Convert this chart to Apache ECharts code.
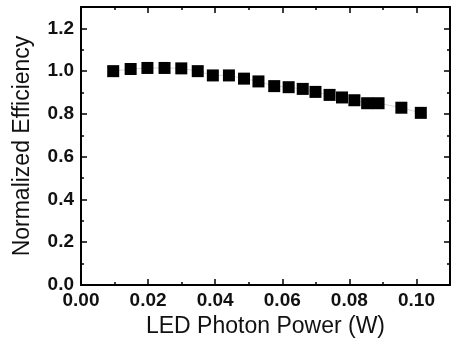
<!DOCTYPE html>
<html>
<head>
<meta charset="utf-8">
<script src="https://cdn.jsdelivr.net/npm/echarts@6/dist/echarts.min.js"></script>
<style>
  html, body { margin: 0; padding: 0; background: #fff; }
  #chart { width: 453px; height: 340px; }
</style>
</head>
<body>
<div id="chart"></div>
<script>
// LED photon power (W)
const power = [0.0096, 0.0148, 0.0198, 0.0249, 0.0299, 0.0348, 0.0393, 0.0441, 0.0486, 0.0529, 0.0576,
  0.0619, 0.0661, 0.0699, 0.0741, 0.0778, 0.0815, 0.0853, 0.0887, 0.0955, 0.1013];
// normalized efficiency
const efficiency = [1.00, 1.01, 1.015, 1.015, 1.013, 1.00, 0.98, 0.98, 0.965, 0.952, 0.93,
  0.925, 0.917, 0.903, 0.889, 0.877, 0.864, 0.85, 0.85, 0.829, 0.805];

const points = power.map((p, i) => [p, efficiency[i]]);

const chart = echarts.init(document.getElementById("chart"), null, { renderer: "canvas" });

const frameAxis = {
  axisLine: { show: true, onZero: false, lineStyle: { color: "#000", width: 2 } },
  axisTick: { show: true, inside: true, length: 6, lineStyle: { color: "#000", width: 1.5 } },
  minorTick: { show: true, splitNumber: 2, length: 3, lineStyle: { color: "#000", width: 1.5 } },
  splitLine: { show: false },
};

chart.setOption({
  animation: false,
  backgroundColor: "#fff",
  grid: { left: 81, right: 3, top: 7, bottom: 55, containLabel: false, outerBoundsMode: "none" },
  xAxis: [
    {
      ...frameAxis,
      type: "value",
      position: "bottom",
      min: 0,
      max: 0.11,
      interval: 0.02,
      name: "LED Photon Power (W)",
      nameLocation: "middle",
      nameGap: 30,
      nameTextStyle: { fontFamily: "Liberation Sans", fontSize: 23, color: "#111" },
      axisLabel: {
        margin: 6,
        showMaxLabel: false,
        fontFamily: "Liberation Sans",
        fontWeight: "bold",
        fontSize: 19,
        color: "#111",
        formatter: (v) => v.toFixed(2),
      },
    },
    {
      ...frameAxis,
      type: "value",
      position: "top",
      min: 0,
      max: 0.11,
      interval: 0.02,
      axisLabel: { show: false },
    },
  ],
  yAxis: [
    {
      ...frameAxis,
      type: "value",
      position: "left",
      min: 0,
      max: 1.3,
      interval: 0.2,
      name: "Normalized Efficiency",
      nameLocation: "middle",
      nameGap: 47,
      nameTextStyle: { fontFamily: "Liberation Sans", fontSize: 23, color: "#111" },
      axisLabel: {
        margin: 7,
        showMaxLabel: false,
        fontFamily: "Liberation Sans",
        fontWeight: "bold",
        fontSize: 19,
        color: "#111",
        formatter: (v) => v.toFixed(1),
      },
    },
    {
      ...frameAxis,
      type: "value",
      position: "right",
      min: 0,
      max: 1.3,
      interval: 0.2,
      axisLabel: { show: false },
    },
  ],
  series: [
    {
      type: "line",
      data: points,
      symbol: "rect",
      symbolSize: 12,
      itemStyle: { color: "#000" },
      lineStyle: { color: "#bbb", width: 0.6 },
    },
  ],
});
</script>
</body>
</html>
